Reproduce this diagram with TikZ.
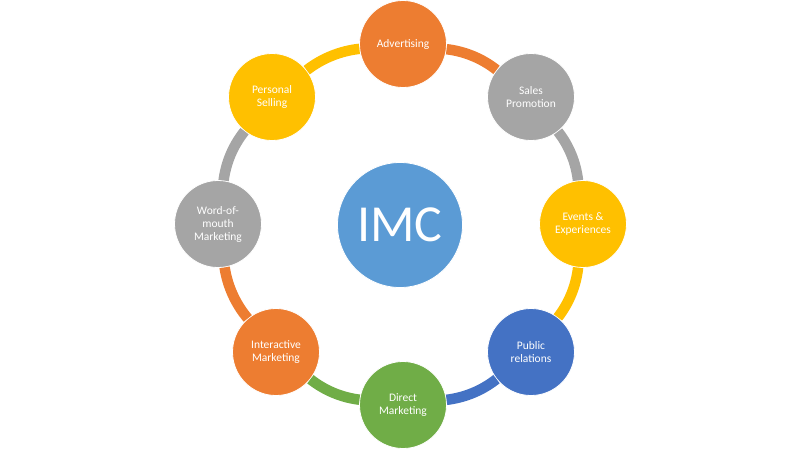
\documentclass[tikz,border=0pt]{standalone}
\usepackage{fontspec}
\setmainfont{Carlito}
\definecolor{imcorange}{HTML}{ED7D31}
\definecolor{imcgrey}{HTML}{A5A5A5}
\definecolor{imcyellow}{HTML}{FFC000}
\definecolor{imcblue}{HTML}{4472C4}
\definecolor{imcgreen}{HTML}{70AD47}
\definecolor{imclight}{HTML}{5B9BD5}
\tikzset{
  item/.style={circle,draw=white,line width=0.8pt,inner sep=0pt,minimum size=87pt,
    text=white,align=center,font=\fontsize{11.5}{13}\selectfont},
  link/.style={line width=10.5pt,bend left=15.7,looseness=0.87}
}
\begin{document}
\begin{tikzpicture}[x=1pt,y=-1pt]
\useasboundingbox (0,0) rectangle (800,450);
\node[circle,fill=imclight,draw=white,line width=0.8pt,inner sep=0pt,minimum size=125pt,text=white,font=\fontsize{52}{56}\selectfont] (imc) at (400,225) {IMC};
\node[item,fill=imcorange] (adv) at (403,44) {Advertising};
\node[item,fill=imcgrey] (sales) at (531,97) {Sales\\Promotion};
\node[item,fill=imcyellow] (events) at (583,224) {Events \&\\Experiences};
\node[item,fill=imcblue] (public) at (531,352) {Public\\relations};
\node[item,fill=imcgreen] (direct) at (403,405) {Direct\\Marketing};
\node[item,fill=imcorange] (inter) at (276,352) {Interactive\\Marketing};
\node[item,fill=imcgrey] (word) at (218,224) {Word-of-\\mouth\\Marketing};
\node[item,fill=imcyellow] (personal) at (272,97) {Personal\\Selling};
\draw[link,imcorange] (adv) to (sales);
\draw[link,imcgrey] (sales) to (events);
\draw[link,imcyellow] (events) to (public);
\draw[link,imcblue] (public) to (direct);
\draw[link,imcgreen] (direct) to (inter);
\draw[link,imcorange] (inter) to (word);
\draw[link,imcgrey] (word) to (personal);
\draw[link,imcyellow] (personal) to (adv);
\end{tikzpicture}
\end{document}
